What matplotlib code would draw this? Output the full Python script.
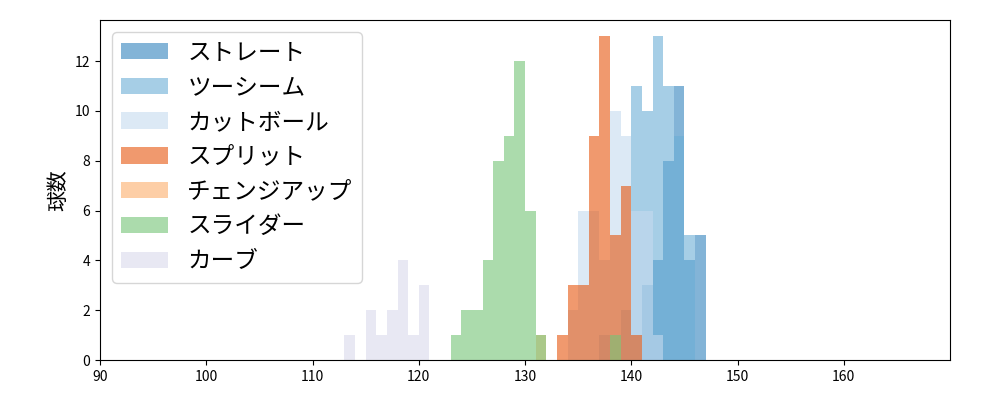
import numpy as np
import matplotlib
matplotlib.use("Agg")
import matplotlib.pyplot as plt

plt.rcParams['font.family'] = ['Noto Sans CJK JP', 'DejaVu Sans']

# --- データ (球速ビンの左端: 件数) ---
pitch_names = ["ストレート", "ツーシーム", "カットボール", "スプリット", "チェンジアップ", "スライダー", "カーブ"]
pitch_colors = ["#3182bd", "#6baed6", "#c6dbef", "#e6550d", "#fdae6b", "#74c476", "#dadaeb"]

straight_bins = [141, 142, 143, 144, 145, 146]
straight_counts = [3, 4, 8, 11, 4, 5]

twoseam_bins = [137, 139, 140, 141, 142, 143, 144, 145]
twoseam_counts = [1, 2, 11, 10, 13, 11, 9, 5]

cutter_bins = [134, 135, 136, 137, 138, 139, 140, 141, 142]
cutter_counts = [2, 6, 6, 4, 10, 9, 6, 6, 1]

split_bins = [133, 134, 135, 136, 137, 138, 139, 140]
split_counts = [1, 3, 3, 9, 13, 5, 7, 1]

changeup_bins = [131]
changeup_counts = [1]

slider_bins = [123, 124, 125, 126, 127, 128, 129, 130, 131, 138]
slider_counts = [1, 2, 2, 4, 8, 9, 12, 6, 1, 1]

curve_bins = [113, 115, 116, 117, 118, 119, 120]
curve_counts = [1, 2, 1, 2, 4, 1, 3]

series = [
    (straight_bins, straight_counts),
    (twoseam_bins, twoseam_counts),
    (cutter_bins, cutter_counts),
    (split_bins, split_counts),
    (changeup_bins, changeup_counts),
    (slider_bins, slider_counts),
    (curve_bins, curve_counts),
]

edges = np.arange(90, 171, 1)

fig, ax = plt.subplots(figsize=(10, 4), dpi=100)
fig.subplots_adjust(left=0.1, right=0.95, top=0.95, bottom=0.1)

for name, color, (b, c) in zip(pitch_names, pitch_colors, series):
    centers = np.array(b) + 0.5
    ax.hist(centers, bins=edges, weights=c, color=color, alpha=0.6, label=name)

ax.set_xlim(90, 170)
ax.set_xticks(np.arange(90, 161, 10))
ax.set_ylabel("球数", fontsize=15)
ax.legend(loc="upper left", fontsize=17)

plt.savefig("out.png", dpi=100)
